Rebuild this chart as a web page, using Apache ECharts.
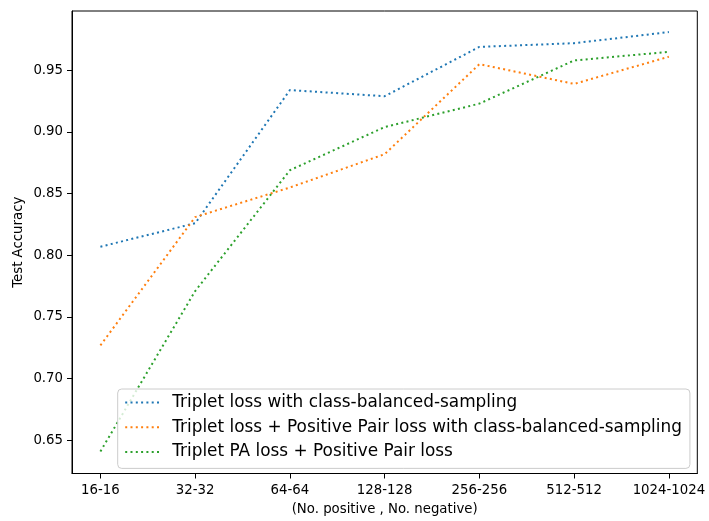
<!DOCTYPE html>
<html>
<head>
<meta charset="utf-8">
<script src="https://cdn.jsdelivr.net/npm/echarts@6/dist/echarts.min.js"></script>
<style>html,body{margin:0;padding:0;background:#fff;}#c{width:709px;height:521px;}</style>
</head>
<body>
<div id="c"></div>
<script>
const categories = ['16-16', '32-32', '64-64', '128-128', '256-256', '512-512', '1024-1024'];
const seriesNames = [
  'Triplet loss with class-balanced-sampling',
  'Triplet loss + Positive Pair loss with class-balanced-sampling',
  'Triplet PA loss + Positive Pair loss'
];
const tripletCBS = [0.807, 0.826, 0.934, 0.929, 0.969, 0.972, 0.981];
const tripletPPCBS = [0.727, 0.831, 0.855, 0.882, 0.955, 0.939, 0.961];
const tripletPAPP = [0.641, 0.771, 0.869, 0.904, 0.923, 0.958, 0.965];
const yTicks = [0.65, 0.70, 0.75, 0.80, 0.85, 0.90, 0.95];
const colors = ['#1f77b4', '#ff7f0e', '#2ca02c'];

const FONT = 'DejaVu Sans';
const xIdx = categories.map((c, i) => i);
function mk(name, vals, color) {
  return {
    name: name,
    type: 'line',
    data: vals.map((v, i) => [i, v]),
    showSymbol: false,
    symbol: 'none',
    color: color,
    lineStyle: { color: color, width: 2, type: [2, 3.3], cap: 'butt' },
    animation: false
  };
}
const chart = echarts.init(document.getElementById('c'), null, { renderer: 'canvas' });
chart.setOption({
  backgroundColor: '#fff',
  animation: false,
  textStyle: { fontFamily: FONT },
  grid: {
    left: 72, right: 11.7, top: 11, bottom: 44.3,
    show: true, borderColor: '#000', borderWidth: 1, backgroundColor: 'transparent'
  },
  legend: {
    left: 117.7, top: 389,
    orient: 'vertical',
    data: seriesNames,
    itemWidth: 34, itemHeight: 14, itemGap: 7.7,
    padding: [5, 8, 8, 6.5],
    backgroundColor: 'rgba(255,255,255,0.8)',
    borderColor: '#cccccc', borderWidth: 1, borderRadius: 4,
    itemStyle: { color: 'rgba(0,0,0,0)', borderWidth: 0, opacity: 0 },
    textStyle: { fontFamily: FONT, fontSize: 16.9, color: '#000', lineHeight: 17, padding: [0, 0, 0, 8] }
  },
  xAxis: {
    type: 'value', min: -0.3, max: 6.3,
    name: '(No. positive , No. negative)', nameLocation: 'middle', nameGap: 29.5,
    nameMoveOverlap: false,
    nameTextStyle: { fontFamily: FONT, fontSize: 13.3, color: '#000' },
    axisLine: { show: true, onZero: false, lineStyle: { color: '#000', width: 1 } },
    axisTick: { show: true, length: 5, lineStyle: { color: '#000' }, customValues: xIdx },
    axisLabel: { fontFamily: FONT, fontSize: 13.3, color: '#000', margin: 10.5, customValues: xIdx,
      formatter: v => categories[Math.round(v)] },
    splitLine: { show: false }
  },
  yAxis: {
    type: 'value', min: 0.6231, max: 0.9981,
    name: 'Test Accuracy', nameLocation: 'middle', nameGap: 46.5, nameRotate: 90,
    nameMoveOverlap: false,
    nameTextStyle: { fontFamily: FONT, fontSize: 13.3, color: '#000' },
    axisLine: { show: true, onZero: false, lineStyle: { color: '#000', width: 1 } },
    axisTick: { show: true, length: 5, lineStyle: { color: '#000' }, customValues: yTicks },
    axisLabel: { fontFamily: FONT, fontSize: 13.3, color: '#000', margin: 9, customValues: yTicks,
      formatter: v => v.toFixed(2) },
    splitLine: { show: false }
  },
  series: [
    mk(seriesNames[0], tripletCBS, colors[0]),
    mk(seriesNames[1], tripletPPCBS, colors[1]),
    mk(seriesNames[2], tripletPAPP, colors[2])
  ]
});
</script>
</body>
</html>
